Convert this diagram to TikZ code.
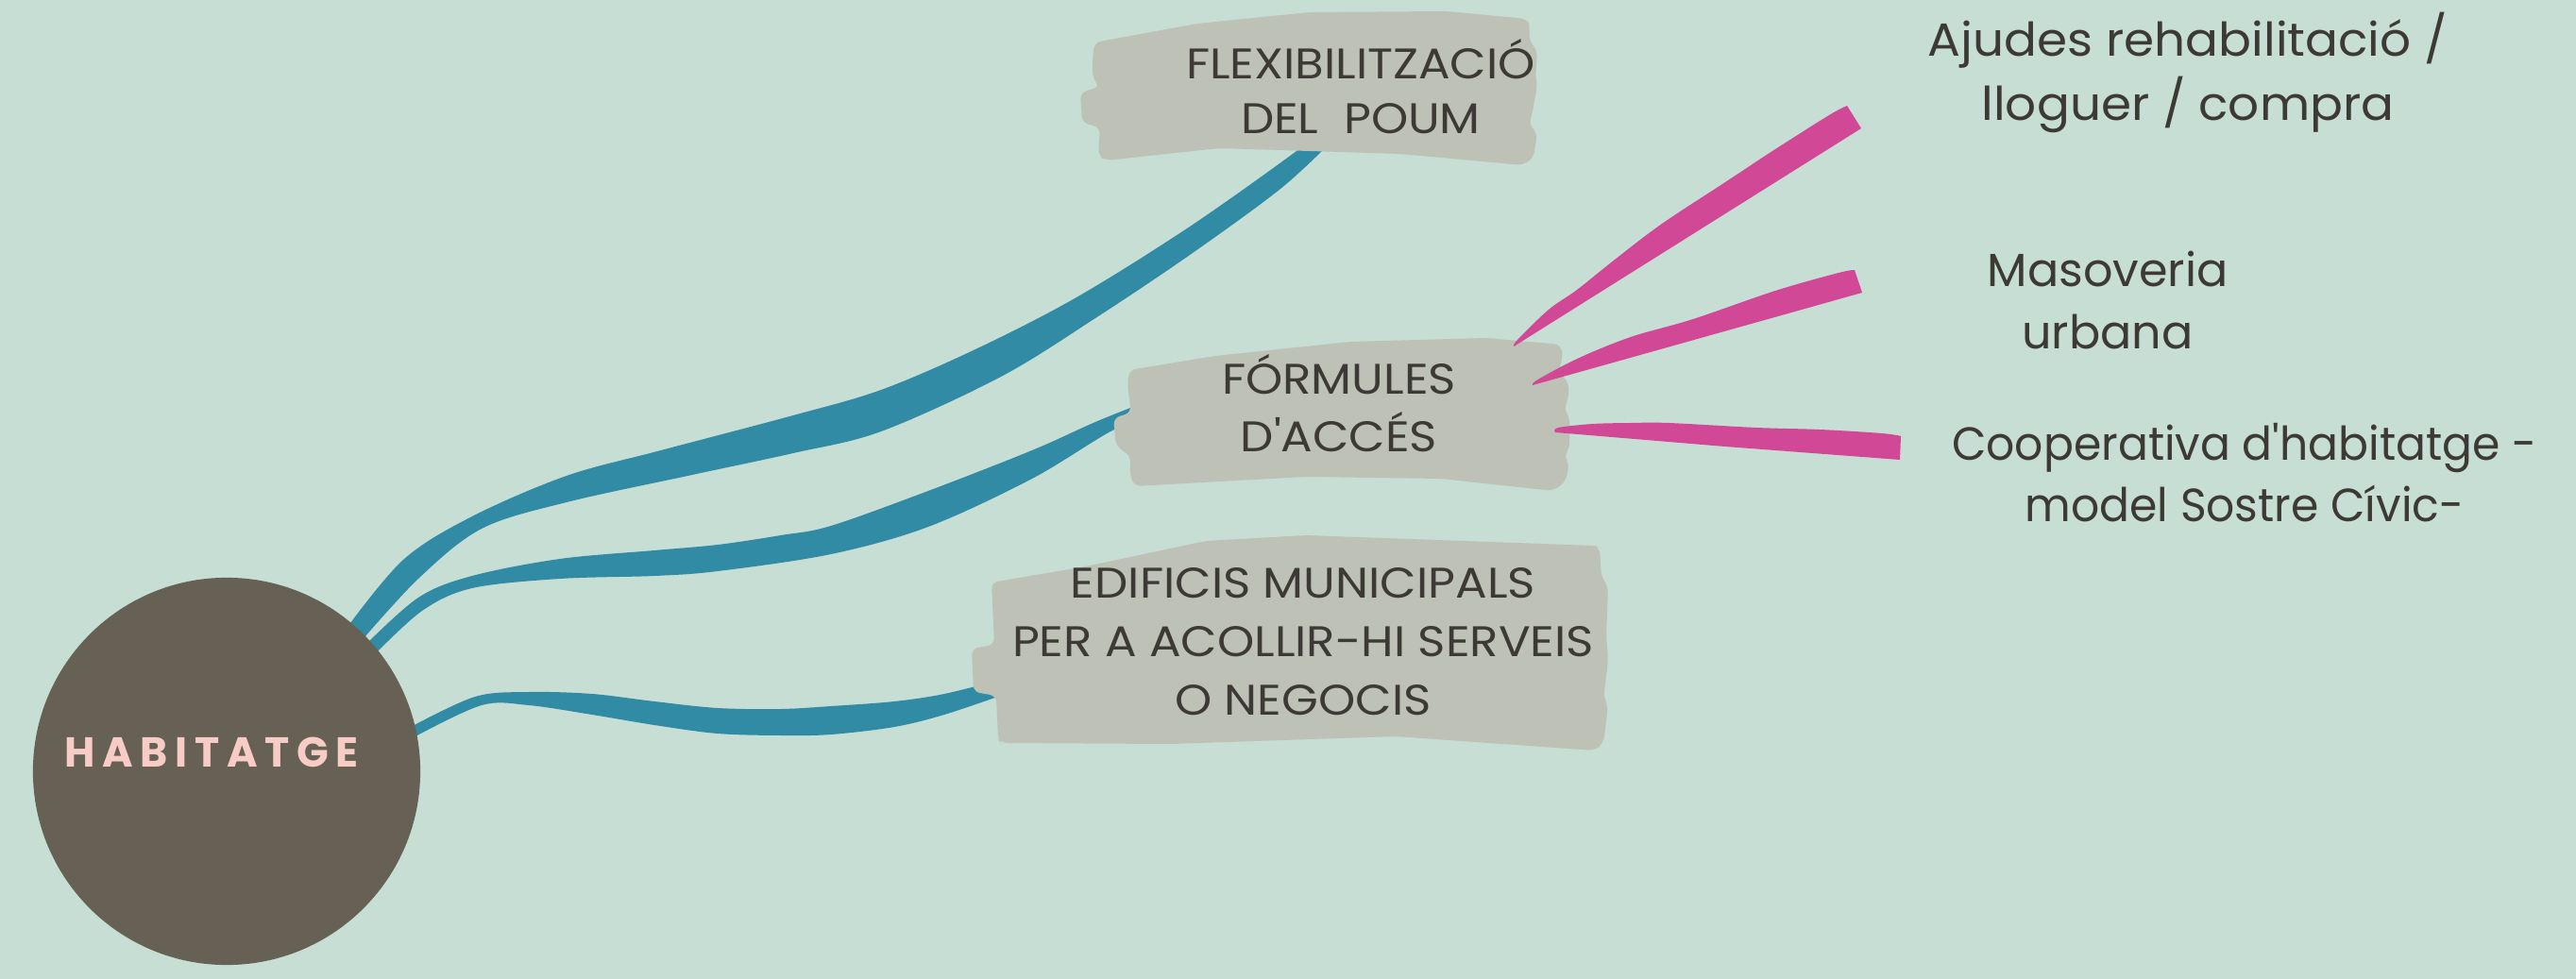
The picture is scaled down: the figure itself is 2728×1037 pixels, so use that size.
\documentclass[tikz,border=0pt]{standalone}
\usepackage{fontspec}
\setmainfont{Poppins}[FakeStretch=1.1]
\definecolor{bgc}{RGB}{198,222,211}
\definecolor{boxc}{RGB}{189,193,182}
\definecolor{circc}{RGB}{103,96,84}
\definecolor{tealc}{RGB}{49,139,164}
\definecolor{pinkc}{RGB}{209,73,150}
\definecolor{txtc}{RGB}{61,57,52}
\definecolor{habc}{RGB}{248,204,198}
\tikzset{
  boxtext/.style={anchor=base, align=center, text=txtc, inner sep=0pt,
    font=\fontsize{12.9}{17.6}\selectfont},
  sidetext/.style={anchor=base, align=center, text=txtc, inner sep=0pt},
  brush/.style={fill=boxc, rounded corners=2},
  ribbon/.style={fill=tealc},
  ray/.style={fill=pinkc},
  sm/.style={smooth, tension=0.55}
}
\begin{document}
\begin{tikzpicture}[x=0.01cm,y=-0.01cm]
\useasboundingbox (0,0) rectangle (2728,1037);
\fill[bgc] (0,0) rectangle (2728,1037);

% teal ribbons
\fill[ribbon] plot[sm] coordinates {(365,668) (427,593) (500,547) (600,504) (700,477) (840,440) (933,413) (1033,370) (1140,315) (1260,240) (1373,160) (1395,140)}
  -- plot[sm] coordinates {(1412,148) (1356,200) (1260,270) (1160,337) (1060,399) (933,457) (840,480) (733,503) (600,532) (510,560) (443,613) (380,682)} -- cycle;
\fill[ribbon] plot[sm] coordinates {(385,685) (443,633) (500,610) (593,592) (693,583) (760,577) (827,567) (880,557) (983,520) (1093,477) (1160,447) (1215,425)}
  -- plot[sm] coordinates {(1215,448) (1180,455) (1093,507) (983,558) (880,587) (760,605) (693,610) (593,613) (500,623) (447,647) (395,695)} -- cycle;
\fill[ribbon] plot[sm] coordinates {(435,770) (503,738) (560,733) (627,735) (693,743) (760,750) (827,751) (880,748) (947,743) (1000,735) (1060,720)}
  -- plot[sm] coordinates {(1065,735) (1000,757) (947,770) (880,778) (827,779) (760,777) (693,768) (627,757) (560,747) (510,747) (440,780)} -- cycle;

% central circle
\node[circle, fill=circc, minimum size=4.1cm, inner sep=0pt] (hab) at (240,817) {};
\node[text=habc, inner sep=0pt, font=\addfontfeature{FakeStretch=1}\bfseries\fontsize{12.6}{14}\selectfont] (habtxt) at (224,797)
  {H\kern2.2pt A\kern2.2pt B\kern2.2pt I\kern2.2pt T\kern2.2pt A\kern2.2pt T\kern2.2pt G\kern2.2pt E};

% brush boxes
\fill[brush] (1159,45) -- (1268,25) -- (1387,13) -- (1532,12) -- (1617,20) -- (1620,27) -- (1619,43) -- (1628,53) -- (1626,85) -- (1628,90) -- (1622,123) -- (1619,133) -- (1628,140) -- (1624,167) -- (1613,175) -- (1483,163) -- (1291,157) -- (1171,170) -- (1163,165) -- (1165,135) -- (1146,130) -- (1144,98) -- (1165,92) -- (1157,83) -- (1157,63) -- cycle;
\fill[brush] (1196,392) -- (1287,377) -- (1430,362) -- (1574,358) -- (1653,365) -- (1655,380) -- (1650,393) -- (1662,407) -- (1660,427) -- (1655,433) -- (1662,440) -- (1662,477) -- (1655,483) -- (1662,490) -- (1658,510) -- (1645,520) -- (1526,507) -- (1383,505) -- (1201,515) -- (1196,500) -- (1198,487) -- (1194,480) -- (1182,473) -- (1179,443) -- (1198,437) -- (1196,423) -- (1194,407) -- cycle;
\fill[brush] (1050,617) -- (1150,600) -- (1277,573) -- (1383,567) -- (1689,578) -- (1694,580) -- (1696,613) -- (1703,620) -- (1701,673) -- (1703,700) -- (1698,740) -- (1703,747) -- (1698,787) -- (1689,795) -- (1478,780) -- (1239,788) -- (1060,787) -- (1057,783) -- (1055,737) -- (1031,733) -- (1029,687) -- (1053,683) -- cycle;

% pink rays
\fill[ray] plot[sm] coordinates {(1603,367) (1607,360) (1640,328) (1670,307) (1710,275) (1760,237) (1827,193) (1877,160) (1937,122) (1956,112)} -- (1971,136) -- cycle;
\fill[ray] plot[sm] coordinates {(1623,408) (1627,403) (1660,385) (1693,370) (1733,355) (1793,338) (1880,308) (1947,289) (1964,286)} -- (1972,310) -- cycle;
\fill[ray] plot[sm] coordinates {(1647,458) (1650,453) (1687,449) (1727,448) (1767,448) (1860,453) (1927,455) (1993,459) (2013,462)} -- (2012,487) -- (1827,473) -- cycle;

% box texts (base = last line)
\node[boxtext, font=\fontsize{12.9}{16.5}\selectfont] (flex) at (1441,142) {FLEXIBILITZACIÓ\\DEL\ \ POUM};
\node[boxtext] (form) at (1418,479) {FÓRMULES\\D\textquotesingle ACCÉS};
\node[boxtext] (edif) at (1380,757) {EDIFICIS MUNICIPALS\\PER A ACOLLIR-HI SERVEIS\\O NEGOCIS};

% side texts (base = last line)
\node[sidetext, font=\addfontfeature{FakeStretch=1.05}\fontsize{14}{19.6}\selectfont] (ajud) at (2317,128) {Ajudes rehabilitació /\\lloguer / compra};
\node[sidetext, font=\addfontfeature{FakeStretch=1.0}\fontsize{14}{18.8}\selectfont] (maso) at (2232,370) {Masoveria\\urbana};
\node[sidetext, font=\addfontfeature{FakeStretch=0.96}\fontsize{14}{18.5}\selectfont] (coop) at (2377,553) {Cooperativa d\textquotesingle habitatge -\\model Sostre Cívic-};
\end{tikzpicture}
\end{document}
